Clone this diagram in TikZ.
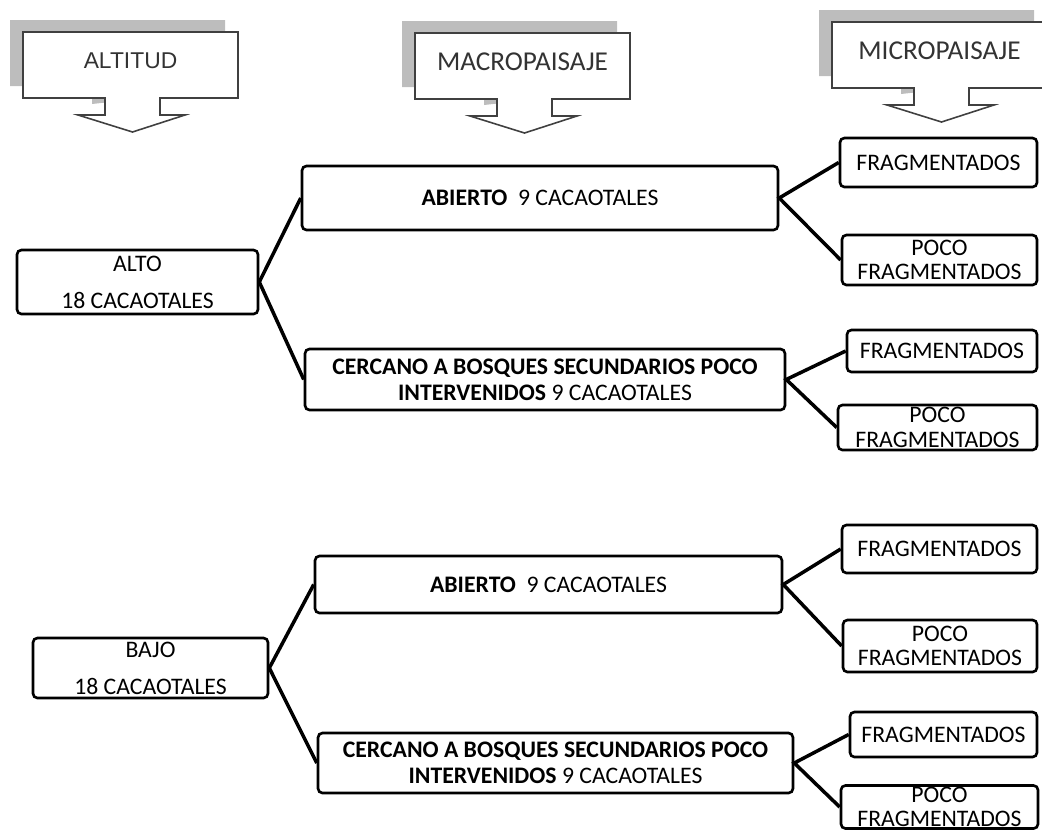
\documentclass[tikz,border=0pt]{standalone}
\usepackage{fontspec}
\setmainfont{Carlito}
\newfontfamily\arialfont{Liberation Sans}
\usepackage{tikz}
\usetikzlibrary{calc}

\definecolor{shadegray}{HTML}{BDBDBD}
\definecolor{headtext}{HTML}{333333}

\begin{document}
\begin{tikzpicture}[
  x=0.02cm, y=-0.02cm,
  % --- styles ------------------------------------------------------------
  box/.style={
    rectangle, draw, rounded corners=2.5pt, line width=1.5pt,
    inner sep=0pt, align=center, fill=white,
    font=\fontsize{13.5}{15}\selectfont
  },
  tallbox/.style={box, font=\fontsize{13.5}{21}\selectfont},
  smallbox/.style={box, font=\fontsize{13.5}{14}\selectfont},
  link/.style={line width=2pt},
  shade/.style={fill=shadegray},
  callout/.style={fill=white, draw=black!75, line width=0.9pt},
  headlabel/.style={text=headtext, font=\fontsize{15.5}{18}\selectfont}
]
\useasboundingbox (0,0) rectangle (1042,833);
\clip (0,0) rectangle (1042,833);

% --------------------- header arrows ------------------------------------
\foreach \hx/\hy/\hname/\htext in {23/32/alt/{\arialfont\fontsize{13}{15}\selectfont ALTITUD},
                                   415/33/mac/MACROPAISAJE,
                                   832/22/mic/MICROPAISAJE}{
  \begin{scope}[shift={(\hx,\hy)}]
    % shadow (box + stem only), then the white callout on top
    \fill[shade] (-13,-12) -- ++(215,0) -- ++(0,66) -- ++(-78,0) -- ++(0,12)
      -- ++(-55,6) -- ++(0,-18) -- ++(-82,0) -- cycle;
    \path[callout] (0,0) -- ++(215,0) -- ++(0,66) -- ++(-78,0) -- ++(0,17)
      -- ++(25,0) -- ++(-52.5,17) -- ++(-54.5,-17) -- ++(27,0) -- ++(0,-17)
      -- ++(-82,0) -- cycle;
    \node[headlabel] (hd-\hname) at (107.5,29) {\htext};
  \end{scope}
}

% --------------------- upper tree (ALTO) --------------------------------
\node[tallbox, minimum width=4.82cm, minimum height=1.28cm] (alto) at (137.5,282)
  {ALTO\\18 CACAOTALES};
\node[box, minimum width=9.52cm, minimum height=1.28cm] (abi1) at (540,198)
  {\textbf{ABIERTO}\ \ 9 CACAOTALES};
\node[box, minimum width=9.60cm, minimum height=1.22cm] (cer1) at (545,379.5)
  {\textbf{CERCANO A BOSQUES SECUNDARIOS POCO}\\\textbf{INTERVENIDOS} 9 CACAOTALES};

\node[box, minimum width=3.94cm, minimum height=0.98cm] (fr1a) at (938.5,162.5) {FRAGMENTADOS};
\node[smallbox, minimum width=3.90cm, minimum height=1.00cm] (pf1a) at (939.5,260) {POCO\\FRAGMENTADOS};
\node[box, minimum width=3.80cm, minimum height=0.84cm] (fr1b) at (942,351) {FRAGMENTADOS};
\node[smallbox, minimum width=3.98cm, minimum height=0.90cm] (pf1b) at (937.5,427.5) {POCO\\FRAGMENTADOS};

% --------------------- lower tree (BAJO) --------------------------------
\node[tallbox, minimum width=4.70cm, minimum height=1.20cm] (bajo) at (150.5,668)
  {BAJO\\18 CACAOTALES};
\node[box, minimum width=9.34cm, minimum height=1.14cm] (abi2) at (548.5,584.5)
  {\textbf{ABIERTO}\ \ 9 CACAOTALES};
\node[box, minimum width=9.50cm, minimum height=1.20cm] (cer2) at (555.5,763)
  {\textbf{CERCANO A BOSQUES SECUNDARIOS POCO}\\\textbf{INTERVENIDOS} 9 CACAOTALES};

\node[box, minimum width=3.90cm, minimum height=0.96cm] (fr2a) at (939.5,549) {FRAGMENTADOS};
\node[smallbox, minimum width=3.88cm, minimum height=1.04cm] (pf2a) at (940,646) {POCO\\FRAGMENTADOS};
\node[box, minimum width=3.74cm, minimum height=0.90cm] (fr2b) at (943.5,734.5) {FRAGMENTADOS};
\node[smallbox, minimum width=3.94cm, minimum height=0.86cm] (pf2b) at (939.5,807) {POCO\\FRAGMENTADOS};

% --------------------- connectors ---------------------------------------
\draw[link] (abi1.west) -- (alto.east) -- (cer1.west);
\draw[link] (fr1a.west) -- (abi1.east) -- (pf1a.west);
\draw[link] (fr1b.west) -- (cer1.east) -- (pf1b.west);

\draw[link] (abi2.west) -- (bajo.east) -- (cer2.west);
\draw[link] (fr2a.west) -- (abi2.east) -- (pf2a.west);
\draw[link] (fr2b.west) -- (cer2.east) -- (pf2b.west);

\end{tikzpicture}
\end{document}
